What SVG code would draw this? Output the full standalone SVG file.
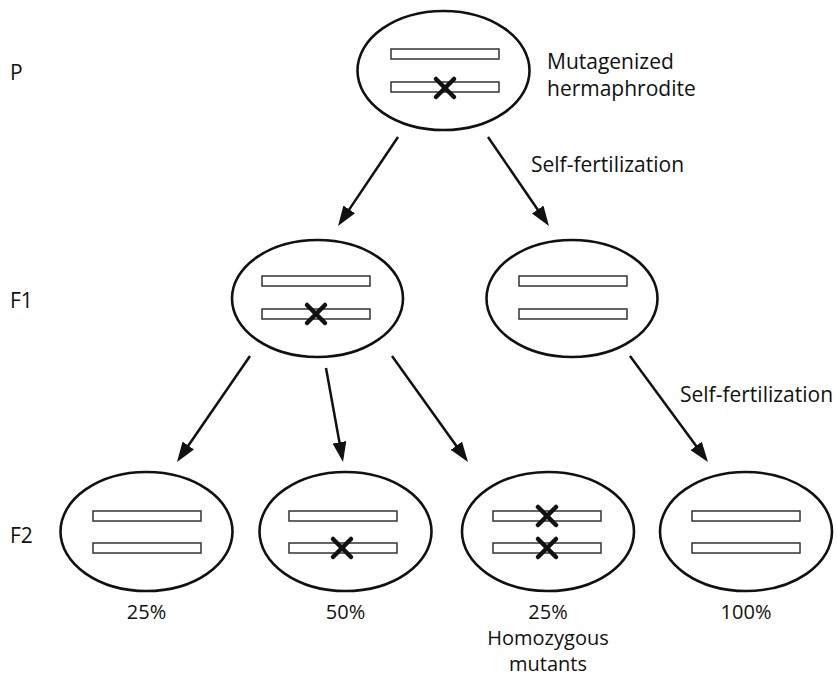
<svg xmlns="http://www.w3.org/2000/svg" width="837" height="677" viewBox="0 0 837 677">
<style>
.cell{fill:#fff;stroke:#111;stroke-width:2.6}
.chr{fill:#fff;stroke:#333;stroke-width:1.5}
.mut{stroke:#111;stroke-width:4.5;stroke-linecap:round}
.arr{stroke:#111;stroke-width:2.5;fill:none}
text{font-family:"Open Sans","Noto Sans","Liberation Sans",sans-serif;font-size:21px;fill:#111}
.mid{text-anchor:middle;font-size:20px}
</style>
<defs>
<marker id="ah" markerUnits="userSpaceOnUse" markerWidth="20" markerHeight="14" refX="2" refY="7" orient="auto">
<path d="M0,0 L20,7 L0,14 z" fill="#111"/>
</marker>
<g id="xm"><line x1="-9" y1="-9" x2="9" y2="9" class="mut"/><line x1="9" y1="-9" x2="-9" y2="9" class="mut"/></g>
</defs>
<rect width="837" height="677" fill="#fff"/>
<g id="gen-labels">
<text x="10" y="80">P</text>
<text x="10" y="308">F1</text>
<text x="10" y="543">F2</text>
</g>
<g id="node-p">
<ellipse class="cell" cx="443.5" cy="70.5" rx="86" ry="59.5"/>
<rect class="chr" x="391" y="49" width="108" height="10"/>
<rect class="chr" x="391" y="82" width="108" height="10"/>
<use href="#xm" x="445" y="88"/>
<text x="547" y="69">Mutagenized</text>
<text x="547" y="96">hermaphrodite</text>
</g>
<g id="node-f1a">
<ellipse class="cell" cx="317.5" cy="298.5" rx="85.5" ry="58.5"/>
<rect class="chr" x="262" y="276" width="108" height="10"/>
<rect class="chr" x="262" y="309" width="108" height="10"/>
<use href="#xm" x="316" y="314"/>
</g>
<g id="node-f1b">
<ellipse class="cell" cx="572" cy="298.5" rx="85.5" ry="58.5"/>
<rect class="chr" x="519" y="276" width="108" height="10"/>
<rect class="chr" x="519" y="309" width="108" height="10"/>
</g>
<g id="node-f2a">
<ellipse class="cell" cx="146.5" cy="531.5" rx="86" ry="59.5"/>
<rect class="chr" x="93" y="511" width="108" height="10"/>
<rect class="chr" x="93" y="543" width="108" height="10"/>
<text class="mid" x="146.5" y="619">25%</text>
</g>
<g id="node-f2b">
<ellipse class="cell" cx="345.5" cy="531.5" rx="86" ry="59.5"/>
<rect class="chr" x="289" y="511" width="108" height="10"/>
<rect class="chr" x="289" y="543" width="108" height="10"/>
<use href="#xm" x="342" y="548"/>
<text class="mid" x="345.5" y="619">50%</text>
</g>
<g id="node-f2c">
<ellipse class="cell" cx="548" cy="531.5" rx="86" ry="59.5"/>
<rect class="chr" x="493" y="511" width="108" height="10"/>
<rect class="chr" x="493" y="543" width="108" height="10"/>
<use href="#xm" x="547" y="516"/>
<use href="#xm" x="547" y="548"/>
<text class="mid" x="548" y="619">25%</text>
<text class="mid" x="548" y="645">Homozygous</text>
<text class="mid" x="548" y="671">mutants</text>
</g>
<g id="node-f2d">
<ellipse class="cell" cx="746" cy="531.5" rx="86" ry="59.5"/>
<rect class="chr" x="692" y="511" width="108" height="10"/>
<rect class="chr" x="692" y="543" width="108" height="10"/>
<text class="mid" x="746" y="619">100%</text>
</g>
<g id="connectors">
<line class="arr" x1="398" y1="137" x2="348.1" y2="211.1" marker-end="url(#ah)"/>
<line class="arr" x1="488" y1="137" x2="538.8" y2="211.2" marker-end="url(#ah)"/>
<line class="arr" x1="250" y1="356" x2="187.2" y2="447.2" marker-end="url(#ah)"/>
<line class="arr" x1="326" y1="368" x2="339.8" y2="444.3" marker-end="url(#ah)"/>
<line class="arr" x1="392" y1="356" x2="457.5" y2="447.4" marker-end="url(#ah)"/>
<line class="arr" x1="630" y1="356" x2="697.3" y2="447.5" marker-end="url(#ah)"/>
<text x="531" y="172">Self-fertilization</text>
<text x="680" y="402">Self-fertilization</text>
</g>
</svg>
